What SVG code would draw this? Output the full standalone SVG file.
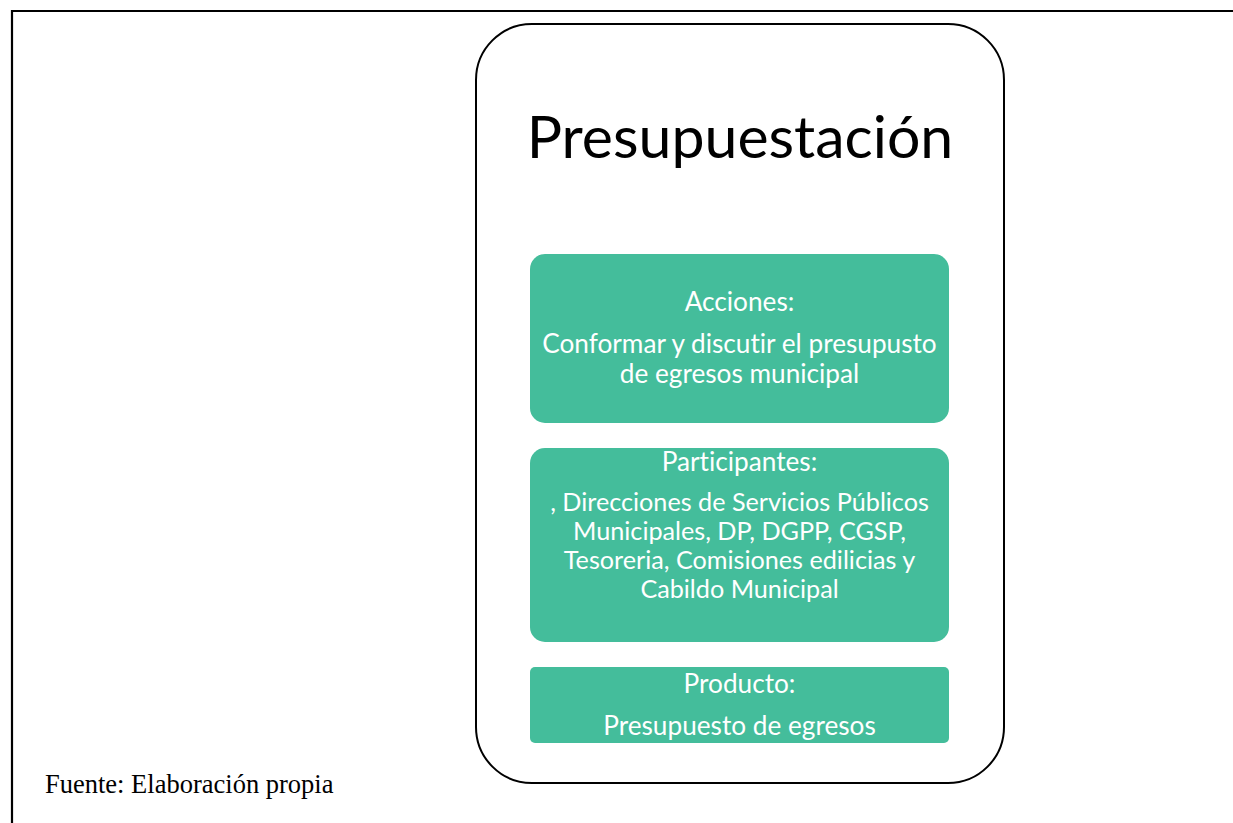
<svg xmlns="http://www.w3.org/2000/svg" width="1233" height="823" viewBox="0 0 1233 823">
<style>
.box{fill:#44BD9B;}
.t{font-family:Lato,"Open Sans",sans-serif;fill:#ffffff;text-anchor:middle;font-size:26.2px;font-variant-ligatures:none;}
.p{font-size:25.2px;}
</style>
<rect width="1233" height="823" fill="#ffffff"/>
<path d="M12,830 V11 H1240" fill="none" stroke="#000" stroke-width="2.2"/>
<g id="main">
<rect x="476" y="24" width="528" height="759" rx="56" ry="56" fill="#fff" stroke="#000" stroke-width="2"/>
<text x="740" y="158" font-family="Lato,'Open Sans',sans-serif" font-size="59" text-anchor="middle" fill="#000" style="font-variant-ligatures:none">Presupuestación</text>
</g>
<g id="acciones">
<rect class="box" x="530" y="254" width="419" height="169" rx="15"/>
<text class="t" x="739.5" y="311">Acciones:</text>
<text class="t" x="739.5" y="353">Conformar y discutir el presupusto</text>
<text class="t" x="739.5" y="383">de egresos municipal</text>
</g>
<g id="participantes">
<rect class="box" x="530" y="448" width="419" height="194" rx="15"/>
<text class="t" x="739.5" y="471">Participantes:</text>
<text class="t p" x="739.5" y="511">, Direcciones de Servicios Públicos</text>
<text class="t p" x="739.5" y="540">Municipales, DP, DGPP, CGSP,</text>
<text class="t p" x="739.5" y="569">Tesoreria, Comisiones edilicias y</text>
<text class="t p" x="739.5" y="598">Cabildo Municipal</text>
</g>
<g id="producto">
<rect class="box" x="530" y="667" width="419" height="76" rx="5"/>
<text class="t" x="739.5" y="693">Producto:</text>
<text class="t" x="739.5" y="735">Presupuesto de egresos</text>
</g>
<g id="connectors"></g>
<text x="45" y="793" font-family="'Liberation Serif',serif" font-size="26.5" fill="#000">Fuente: Elaboración propia</text>
</svg>
